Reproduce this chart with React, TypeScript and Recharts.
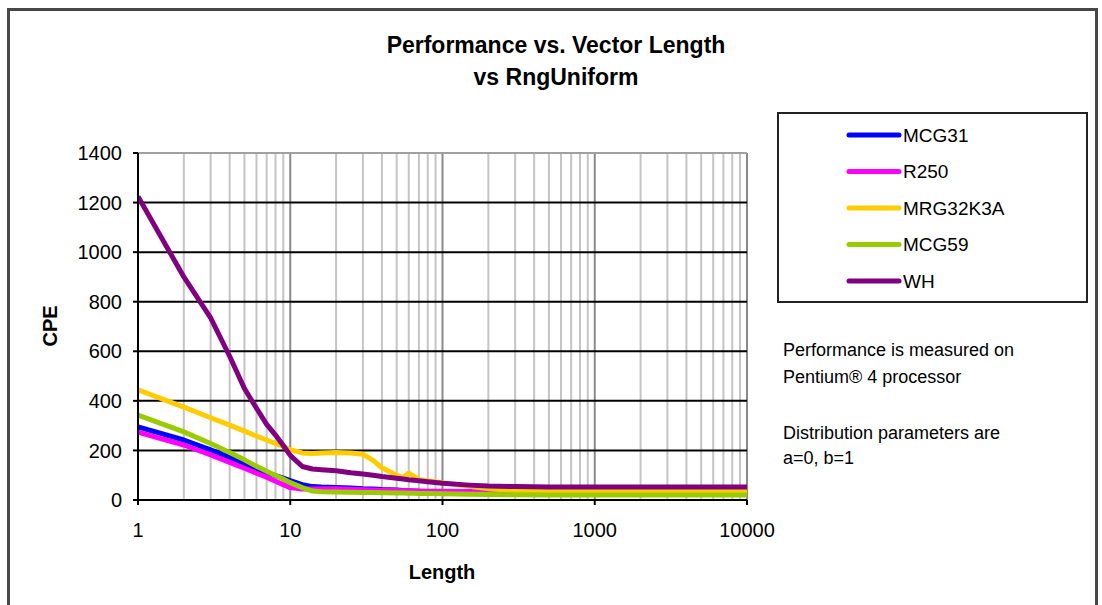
import { LineChart, Line, XAxis, YAxis, ReferenceLine } from 'recharts';

// vector lengths sampled along the log axis
const lengths = [1, 2, 3, 4, 5, 6, 7, 8, 9, 10, 12, 14, 16, 20, 25, 30, 35, 40, 50, 55, 60, 65, 70, 80, 100, 150, 200, 300, 500, 1000, 2000, 5000, 10000];

const mcg31 = [295, 242, 202, 172, 147, 127, 111, 98, 88, 78, 62, 54, 52, 50, 48, 45, 44, 42, 40, 38, 37, 36, 35, 34, 32, 30, 28, 27, 26, 26, 26, 26, 26];
const r250 = [274, 222, 182, 152, 128, 108, 92, 76, 62, 50, 44, 44, 45, 45, 43, 41, 40, 39, 38, 37, 37, 36, 36, 35, 35, 34, 33, 32, 32, 32, 32, 32, 32];
const mrg32k3a = [444, 375, 332, 302, 278, 258, 242, 228, 216, 203, 190, 188, 190, 192, 190, 185, 160, 130, 100, 90, 108, 95, 82, 78, 70, 55, 45, 38, 36, 35, 35, 35, 35];
const mcg59 = [343, 275, 228, 192, 162, 136, 116, 99, 85, 70, 50, 36, 33, 32, 31, 30, 30, 29, 28, 28, 27, 27, 26, 26, 25, 23, 22, 21, 20, 20, 20, 20, 20];
const wh = [1225, 900, 735, 580, 450, 370, 305, 262, 220, 180, 135, 125, 122, 118, 110, 105, 100, 95, 88, 85, 82, 80, 78, 74, 68, 60, 56, 54, 52, 52, 52, 52, 52];

const seriesNames = ['MCG31', 'R250', 'MRG32K3A', 'MCG59', 'WH'];
const seriesKeys = ['mcg31', 'r250', 'mrg32k3a', 'mcg59', 'wh'];
const seriesColors = ['#0000ff', '#ff00ff', '#ffcc00', '#99cc00', '#800080'];

const xTicks = [1, 10, 100, 1000, 10000];
const yTicks = [0, 200, 400, 600, 800, 1000, 1200, 1400];
const majorX = [10, 100, 1000];
const decades = [1, 10, 100, 1000];
const minorX = decades.flatMap((d) => [2, 3, 4, 5, 6, 7, 8, 9].map((m) => d * m));

const data = lengths.map((len, i) => ({
  len,
  mcg31: mcg31[i],
  r250: r250[i],
  mrg32k3a: mrg32k3a[i],
  mcg59: mcg59[i],
  wh: wh[i],
}));

const FONT = '"Liberation Sans", Arial, sans-serif';

export default function App() {
  return (
    <div style={{ position: 'absolute', left: 0, top: 0, width: 1102, height: 605, background: '#fff', overflow: 'hidden', fontFamily: FONT }}>
      <div style={{ position: 'absolute', left: 7, top: 8, width: 1091, height: 700, border: '3px solid #474747', boxSizing: 'border-box' }} />
      <div style={{ position: 'absolute', left: 0, top: 0 }}>
        <LineChart width={1102} height={605} data={data} margin={{ top: 153, right: 355, bottom: 0, left: 0 }}>
          {minorX.map((v) => (
            <ReferenceLine key={`mn-${v}`} x={v} stroke="#c4c4c4" strokeWidth={2} />
          ))}
          {majorX.map((v) => (
            <ReferenceLine key={`mj-${v}`} x={v} stroke="#8a8a8a" strokeWidth={2} />
          ))}
          <ReferenceLine x={10000} stroke="#8a8a8a" strokeWidth={2} />
          {yTicks.slice(1, -1).map((v) => (
            <ReferenceLine key={`h-${v}`} y={v} stroke="#000" strokeWidth={2} />
          ))}
          <ReferenceLine y={1400} stroke="#a0a0a0" strokeWidth={2} />
          <XAxis
            dataKey="len"
            type="number"
            scale="log"
            domain={[1, 10000]}
            ticks={xTicks}
            allowDataOverflow
            height={105}
            axisLine={{ stroke: '#000', strokeWidth: 2 }}
            tickLine={{ stroke: '#000', strokeWidth: 2 }}
            tickSize={5}
            tickMargin={18}
            tick={{ fill: '#000', fontSize: 20, fontFamily: FONT }}
          />
          <YAxis
            type="number"
            domain={[0, 1400]}
            ticks={yTicks}
            width={138}
            axisLine={{ stroke: '#000', strokeWidth: 2 }}
            tickLine={{ stroke: '#000', strokeWidth: 2 }}
            tickSize={5}
            tickMargin={11}
            tick={{ fill: '#000', fontSize: 20, fontFamily: FONT }}
          />
          {seriesKeys.map((k, i) => (
            <Line
              key={k}
              dataKey={k}
              name={seriesNames[i]}
              type="linear"
              stroke={seriesColors[i]}
              strokeWidth={5}
              strokeLinejoin="round"
              dot={false}
              isAnimationActive={false}
            />
          ))}
        </LineChart>
      </div>
      <svg width={1102} height={605} style={{ position: 'absolute', left: 0, top: 0, pointerEvents: 'none' }} fontFamily={FONT}>
        <text x={556} y={45} textAnchor="middle" dominantBaseline="central" fontSize={23} fontWeight="bold">Performance vs. Vector Length</text>
        <text x={556} y={77} textAnchor="middle" dominantBaseline="central" fontSize={23} fontWeight="bold">vs RngUniform</text>
        <text x={442} y={572} textAnchor="middle" dominantBaseline="central" fontSize={20} fontWeight="bold">Length</text>
        <text x={50} y={326} textAnchor="middle" dominantBaseline="central" fontSize={20} fontWeight="bold" transform="rotate(-90 50 326)">CPE</text>

        <rect x={778} y={113} width={309} height={189} fill="#fff" stroke="#222" strokeWidth={2} />
        {seriesNames.map((n, i) => {
          const y = 135 + i * 36.5;
          return (
            <g key={n}>
              <line x1={849} x2={899} y1={y} y2={y} stroke={seriesColors[i]} strokeWidth={5} strokeLinecap="round" />
              <text x={903} y={y} dominantBaseline="central" fontSize={19}>{n}</text>
            </g>
          );
        })}

        <text x={783} y={350} dominantBaseline="central" fontSize={18}>Performance is measured on</text>
        <text x={783} y={377} dominantBaseline="central" fontSize={18}>Pentium® 4 processor</text>
        <text x={783} y={433} dominantBaseline="central" fontSize={18}>Distribution parameters are</text>
        <text x={783} y={458} dominantBaseline="central" fontSize={18}>a=0, b=1</text>
      </svg>
    </div>
  );
}
